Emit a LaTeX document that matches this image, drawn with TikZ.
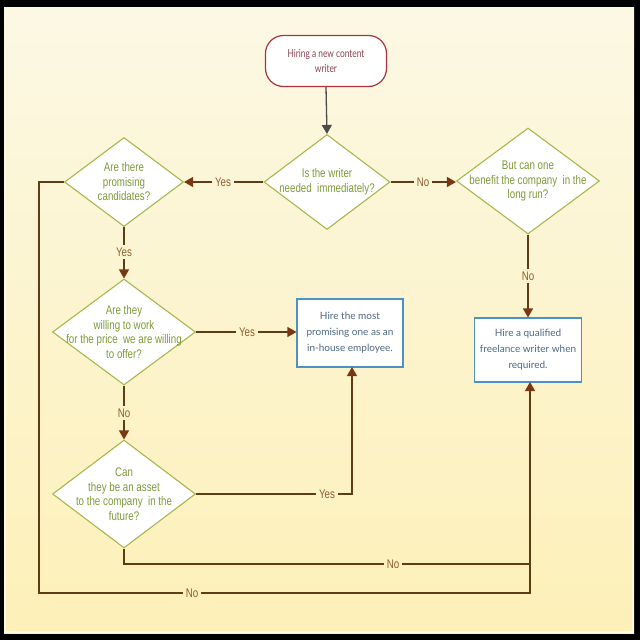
\documentclass[tikz,border=0pt]{standalone}
\usepackage{fontspec}
\usetikzlibrary{shapes.geometric,arrows.meta}
\newfontfamily\narrowf[FakeStretch=0.78]{Liberation Sans}
\newfontfamily\latof{Lato}
\newfontfamily\latonarrow[FakeStretch=0.76]{Lato}
\definecolor{bgtop}{HTML}{FCF8E4}
\definecolor{bgbot}{HTML}{FDF0B8}
\definecolor{startdraw}{HTML}{A8323E}
\definecolor{starttext}{HTML}{8A4052}
\definecolor{diadraw}{HTML}{A6B84C}
\definecolor{diatext}{HTML}{7E9A3A}
\definecolor{boxdraw}{HTML}{4C92C6}
\definecolor{boxtext}{HTML}{4C6882}
\definecolor{linec}{HTML}{5E3C16}
\definecolor{tipc}{HTML}{7A3812}
\definecolor{labc}{HTML}{8E5E2E}
\definecolor{grayc}{HTML}{4A4A4A}
\tikzset{
  startbox/.style={rectangle, rounded corners=18pt, draw=startdraw, fill=white, line width=1.2pt,
    minimum width=121pt, minimum height=51pt, text=starttext, align=center, font=\latonarrow\fontsize{11}{15.5}\selectfont},
  dia/.style={diamond, draw=diadraw, fill=white, line width=1.1pt, inner sep=0pt},
  diatxt/.style={text=diatext, align=center, font=\narrowf\fontsize{12.5}{14.5}\selectfont},
  hbox/.style={rectangle, draw=boxdraw, fill=white, line width=1.1pt, text=boxtext, align=center,
    inner sep=2pt, font=\latof\fontsize{10}{16}\selectfont},
  lab/.style={text=labc, inner sep=2.5pt, font=\narrowf\fontsize{12.5}{13}\selectfont},
  conn/.style={draw=linec, line width=1.3pt},
  arr/.style={conn, -{Triangle[width=10pt,length=9pt,color=tipc]}},
}
\begin{document}
\begin{tikzpicture}[x=1pt,y=-1pt]
\useasboundingbox (0,0) rectangle (640,640);
\fill[black] (0,0) rectangle (640,640);
\shade[top color=bgtop, bottom color=bgbot] (4,7) rectangle (634,633);
\draw[white!60!bgbot, line width=1.5pt] (5,8) rectangle (633,632);

% nodes
\node[startbox] (start) at (326,61) {Hiring a new content\\writer};
\node[dia, minimum width=126pt, minimum height=95pt,
  label={[diatxt]center:{Is the writer\\needed\ \ immediately?}}] (d1) at (327,182) {};
\node[dia, minimum width=119pt, minimum height=89pt,
  label={[diatxt]center:{Are there\\promising\\candidates?}}] (d2) at (124,182) {};
\node[dia, minimum width=143pt, minimum height=106pt,
  label={[diatxt]center:{But can one\\benefit the company\ \ in the\\long run?}}] (d3) at (528,181) {};
\node[dia, minimum width=143pt, minimum height=106pt,
  label={[diatxt]center:{Are they\\willing to work\\for the price\ \ we are willing\\to offer?}}] (d4) at (124,332) {};
\node[dia, minimum width=143pt, minimum height=108pt,
  label={[diatxt]center:{Can\\they be an asset\\to the company\ \ in the\\future?}}] (d5) at (124,494) {};
\node[hbox, minimum width=106pt, minimum height=68pt] (b1) at (350,333) {Hire the most\\promising one as an\\in-house employee.};
\node[hbox, minimum width=107pt, minimum height=64pt] (b2) at (528,350) {Hire a qualified\\freelance writer when\\required.};

% labels
\node[lab] (y1) at (223,182) {Yes};
\node[lab] (n1) at (423,182) {No};
\node[lab] (n2) at (528,276) {No};
\node[lab] (y2) at (124,252) {Yes};
\node[lab] (y3) at (247,332) {Yes};
\node[lab] (n3) at (124,413) {No};
\node[lab] (y4) at (327,494) {Yes};
\node[lab] (n4) at (393,564) {No};
\node[lab] (n5) at (192,593) {No};
\coordinate (lc) at (39,182);
\coordinate (b1in) at (352,367);
\coordinate (b2in) at (530,382);

% connectors
\draw[draw=grayc, line width=1.3pt, -{Triangle[width=10pt,length=9pt,color=grayc]}] (start.south) -- (d1.north);
\draw[conn] (d1.west) -- (y1.east);
\draw[arr] (y1.west) -- (d2.east);
\draw[conn] (d1.east) -- (n1.west);
\draw[arr] (n1.east) -- (n1.east -| d3.west);
\draw[conn] (d3.south) -- (n2.north);
\draw[arr] (n2.south) -- (b2.north);
\draw[conn] (d2.south) -- (y2.north);
\draw[arr] (y2.south) -- (d4.north);
\draw[conn] (d4.east) -- (y3.west);
\draw[arr] (y3.east) -- (y3.east -| b1.west);
\draw[conn] (d4.south) -- (n3.north);
\draw[arr] (n3.south) -- (d5.north);
\draw[conn] (d5.east) -- (y4.west);
\draw[arr] (y4.east) -| (b1in);
\draw[conn] (d5.south) |- (n4.west);
\draw[arr] (n4.east) -| (b2in);
\draw[conn] (d2.west) -- (lc) |- (n5.west);
\draw[conn] (n5.east) -| (n4.east -| b2in);
\end{tikzpicture}
\end{document}
